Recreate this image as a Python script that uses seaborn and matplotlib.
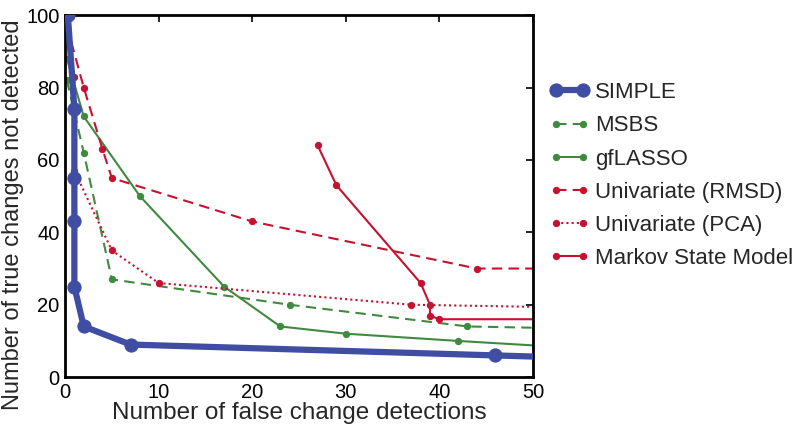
import matplotlib
matplotlib.use("Agg")
import matplotlib.pyplot as plt
import seaborn as sns

# values
simple_x = [0.3, 1, 1, 1, 1, 2, 7, 46, 55]
simple_y = [100, 74, 55, 43, 25, 14, 9, 6, 5.3]

msbs_x = [0.2, 2, 5, 24, 43, 55]
msbs_y = [82, 62, 27, 20, 14, 13.4]

gflasso_x = [0.2, 2, 8, 17, 23, 30, 42, 55]
gflasso_y = [88, 72, 50, 25, 14, 12, 10, 8.0]

rmsd_x = [0.2, 2, 4, 5, 20, 44, 55]
rmsd_y = [97, 80, 63, 55, 43, 30, 30]

pca_x = [0.2, 1, 1, 5, 10, 37, 55]
pca_y = [96, 83, 57, 35, 26, 20, 19.2]

msm_x = [27, 29, 38, 39, 39, 40, 55]
msm_y = [64, 53, 26, 20, 17, 16, 16]

blue = "#3F4DA3"
green = "#3F8A3F"
red = "#C41230"

sns.set_style("white")
plt.rcParams["font.family"] = ["Liberation Sans", "DejaVu Sans"]

fig = plt.figure(figsize=(7.93, 4.32), dpi=100)
ax = fig.add_axes([0.082, 0.127, 0.590, 0.838])

sns.lineplot(x=simple_x, y=simple_y, ax=ax, estimator=None, sort=False,
             color=blue, lw=4.5, marker="o", ms=9.5, mec=blue, label="SIMPLE", zorder=5)
sns.lineplot(x=msbs_x, y=msbs_y, ax=ax, estimator=None, sort=False,
             color=green, lw=1.5, marker="o", ms=4.5, mec=green, label="MSBS")
ax.lines[-1].set_dashes([5, 3])
sns.lineplot(x=gflasso_x, y=gflasso_y, ax=ax, estimator=None, sort=False,
             color=green, lw=1.5, marker="o", ms=4.5, mec=green, label="gfLASSO")
sns.lineplot(x=rmsd_x, y=rmsd_y, ax=ax, estimator=None, sort=False,
             color=red, lw=1.5, marker="o", ms=4.5, mec=red, label="Univariate (RMSD)")
ax.lines[-1].set_dashes([5, 3])
sns.lineplot(x=pca_x, y=pca_y, ax=ax, estimator=None, sort=False,
             color=red, lw=1.5, marker="o", ms=4.5, mec=red, label="Univariate (PCA)")
ax.lines[-1].set_dashes([1, 1.5])
sns.lineplot(x=msm_x, y=msm_y, ax=ax, estimator=None, sort=False,
             color=red, lw=1.5, marker="o", ms=4.5, mec=red, label="Markov State Model")

ax.set_xlim(0, 50)
ax.set_ylim(0, 100)
ax.set_xticks([0, 10, 20, 30, 40, 50])
ax.set_yticks([0, 20, 40, 60, 80, 100])
ax.tick_params(direction="in", top=True, right=True, length=5, width=1.2,
               labelsize=14.5, pad=4, colors="black")
for s in ax.spines.values():
    s.set_linewidth(2)
    s.set_color("black")

ax.set_xlabel("Number of false change detections", fontsize=17.5, labelpad=0)
ax.set_ylabel("Number of true changes not detected", fontsize=17)
ax.yaxis.set_label_coords(-0.088, 0.45)

leg = ax.legend(loc="upper left", bbox_to_anchor=(1.036, 0.815), frameon=False,
                fontsize=16, numpoints=2, handlelength=1.8, handletextpad=0.25,
                labelspacing=0.55, borderaxespad=0, borderpad=0)
for h in leg.legend_handles:
    h.set_clip_on(False)

fig.savefig("out.png", dpi=100)
